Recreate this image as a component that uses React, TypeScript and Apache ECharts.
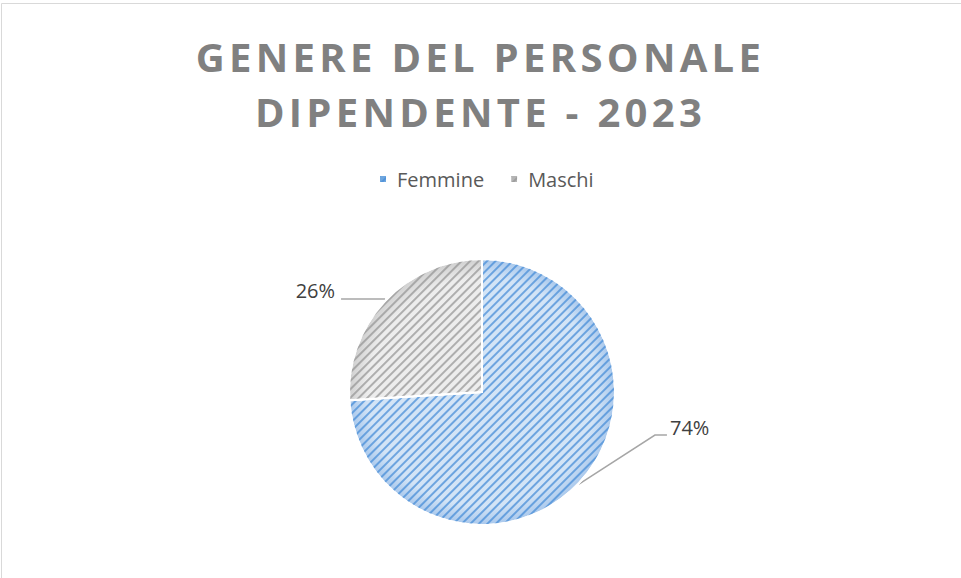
import React, { useEffect, useRef } from "react";
import * as echarts from "echarts";

const categories = ["Femmine", "Maschi"];
const values = [74, 26];
const titleLines = ["GENERE DEL PERSONALE", "DIPENDENTE - 2023"];

const CX = 482;
const CY = 392;
const R = 133;

function grad(inner: string, outer: string) {
  return {
    type: "radial",
    x: CX,
    y: CY,
    r: R,
    global: true,
    colorStops: [
      { offset: 0, color: inner },
      { offset: 0.86, color: inner },
      { offset: 1, color: outer },
    ],
  };
}

export default function App() {
  const ref = useRef<HTMLDivElement>(null);
  useEffect(() => {
    const el = ref.current!;
    const chart = echarts.init(el, null, { renderer: "svg" });
    const total = values.reduce((a, b) => a + b, 0);
    const mids: number[] = [];
    let acc = 0;
    values.forEach((v) => {
      mids.push(((acc + v / 2) / total) * Math.PI * 2);
      acc += v;
    });
    const fills = [grad("#d3e4f6", "#a9c8ec"), grad("#ededed", "#cfcfcf")];
    const decals = ["rgba(70,140,215,0.72)", "rgba(150,150,150,0.72)"];
    chart.setOption({
      animation: false,
      backgroundColor: "#ffffff",
      title: {
        text: titleLines.join("\n"),
        left: "center",
        top: 24,
        textStyle: {
          fontFamily: "Open Sans",
          fontWeight: "bold",
          fontSize: 40,
          lineHeight: 55,
          color: "#808080",
        },
      },
      legend: {
        top: 169,
        left: 378,
        padding: 0,
        icon: "rect",
        itemWidth: 8,
        itemHeight: 8,
        itemGap: 25,
        textStyle: {
          fontFamily: "Open Sans",
          fontSize: 20,
          color: "#595959",
          padding: [0, 0, 0, 5],
        },
        data: categories.map((c, i) => ({
          name: c,
          itemStyle: { color: i === 0 ? "#6fa6de" : "#b4b4b4" },
        })),
      },
      graphic: [
        {
          type: "rect",
          shape: { x: 1.5, y: 3.5, width: 1000, height: 1000 },
          style: { fill: "none", stroke: "#d9d9d9", lineWidth: 1 },
          silent: true,
        },
      ],
      series: [
        {
          type: "pie",
          center: [CX, CY],
          radius: R,
          startAngle: 90,
          clockwise: true,
          itemStyle: { borderColor: "#ffffff", borderWidth: 2 },
          label: {
            show: true,
            formatter: (p: any) => Math.round(p.percent) + "%",
            fontFamily: "Open Sans",
            fontSize: 20,
            color: "#404040",
          },
          labelLine: { show: true, lineStyle: { color: "#a6a6a6", width: 1.5 } },
          labelLayout: (params: any) => {
            const a = mids[params.dataIndex];
            const px = CX + R * Math.sin(a);
            const py = CY - R * Math.cos(a);
            if (params.dataIndex === 0) {
              const ex = px + 76;
              const ey = py - 48;
              return {
                x: ex + 15,
                y: ey - 8,
                align: "left",
                verticalAlign: "middle",
                labelLinePoints: [
                  [px, py + 1],
                  [ex, ey],
                  [ex + 12, ey],
                ],
              };
            }
            return {
              x: px - 50,
              y: py - 10,
              align: "right",
              verticalAlign: "middle",
              labelLinePoints: [
                [px, py - 2],
                [px, py - 2],
                [px - 44, py - 2],
              ],
            };
          },
          data: categories.map((c, i) => ({
            name: c,
            value: values[i],
            itemStyle: {
              color: fills[i],
              decal: {
                symbol: "rect",
                color: decals[i],
                dashArrayX: [1, 0],
                dashArrayY: [1.6, 3.4],
                rotation: -Math.PI / 4,
              },
            },
          })),
        },
      ],
    });
    const spaceTitle = () => {
      el.querySelectorAll("text").forEach((t) => {
        const s = (t.textContent || "").trim();
        if (titleLines.indexOf(s) >= 0) {
          (t as SVGTextElement).style.letterSpacing = "4.3px";
        }
      });
    };
    spaceTitle();
    chart.on("finished", spaceTitle);
    return () => chart.dispose();
  }, []);
  return (
    <div
      ref={ref}
      style={{ position: "fixed", left: 0, top: 0, width: 961, height: 578 }}
    />
  );
}
